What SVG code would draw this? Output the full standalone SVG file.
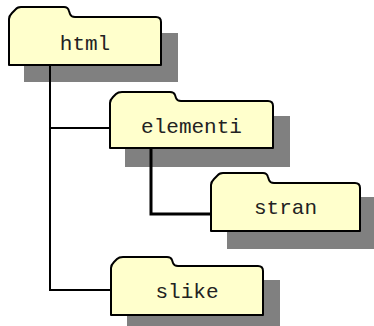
<svg xmlns="http://www.w3.org/2000/svg" width="374" height="326" viewBox="0 0 374 326">
<style>
.shadow{fill:#808080;stroke:none}
.folder{fill:#FFFFCC;stroke:#000;stroke-width:2;stroke-linejoin:round}
.label{font-family:"Liberation Mono","Courier New",monospace;font-size:21px;fill:#222;text-anchor:middle}
.conn{fill:none;stroke:#000;stroke-width:2}
.conn-thick{fill:none;stroke:#000;stroke-width:3}
</style>
<rect width="374" height="326" fill="#fff"/>
<g id="shadows">
<rect class="shadow" x="24" y="33" width="154" height="49"/>
<rect class="shadow" x="125" y="116" width="165" height="51"/>
<rect class="shadow" x="227" y="197" width="147" height="52"/>
<rect class="shadow" x="127" y="280" width="153" height="46"/>
</g>
<g id="connectors">
<path class="conn" d="M50,65 V290 H111 M50,128 H110"/>
<path class="conn-thick" d="M151,148 V214 H211"/>
</g>
<g id="node-html">
<path class="folder" d="M9,65 V19 Q9,16 12,13 L15,10 Q17,7 21,7 H64 Q68,7 69,11 L70,14 Q71,17 75,17 H156 Q161,17 161,22 V65 Z"/>
<text class="label" x="85" y="50">html</text>
</g>
<g id="node-elementi">
<path class="folder" d="M110,148 V103 Q110,100 113,97 L116,94 Q118,92 122,92 H170 Q174,92 175,95 L176,98 Q177,101 181,101 H268 Q273,101 273,106 V148 Z"/>
<text class="label" x="191.5" y="133">elementi</text>
</g>
<g id="node-stran">
<path class="folder" d="M211,231 V185 Q211,182 214,179 L217,176 Q219,173 223,173 H263 Q267,173 268,177 L269,180 Q270,183 274,183 H355 Q360,183 360,188 V231 Z"/>
<text class="label" x="285.5" y="214">stran</text>
</g>
<g id="node-slike">
<path class="folder" d="M111,315 V268 Q111,265 114,262 L117,259 Q119,257 123,257 H167 Q171,257 172,260 L173,263 Q174,266 178,266 H258 Q263,266 263,271 V315 Z"/>
<text class="label" x="187" y="298">slike</text>
</g>
</svg>
